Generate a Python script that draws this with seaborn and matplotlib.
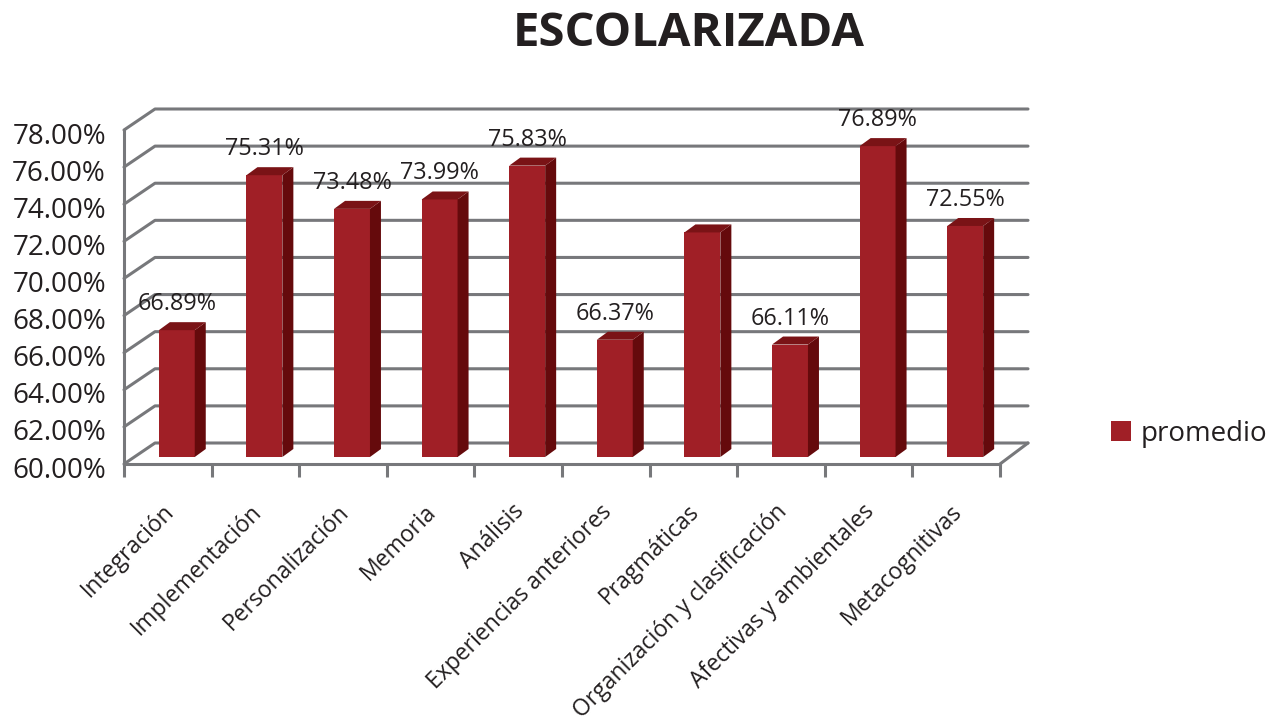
import matplotlib
matplotlib.use("Agg")
import matplotlib.pyplot as plt
import seaborn as sns
from matplotlib.lines import Line2D
from matplotlib.patches import Polygon
from matplotlib.transforms import Affine2D, IdentityTransform

# -------------------------------
# Data
# -------------------------------
categorias = ["Integración", "Implementación", "Personalización", "Memoria", "Análisis",
              "Experiencias anteriores", "Pragmáticas", "Organización y clasificación",
              "Afectivas y ambientales", "Metacognitivas"]
promedio = [66.89, 75.31, 73.48, 73.99, 75.83, 66.37, 72.20, 66.11, 76.89, 72.55]
# Pragmáticas has no label in the original
etiquetas = ["66.89%", "75.31%", "73.48%", "73.99%", "75.83%", "66.37%", None, "66.11%", "76.89%", "72.55%"]
y_ticks = [60, 62, 64, 66, 68, 70, 72, 74, 76, 78]

# colours and fake-3D offsets (pixels)
ROJO = "#a01f26"
ROJO_LADO = "#650a0c"
ROJO_TOPE = "#7a1316"
GRIS = "#77787b"
TEXTO = "#231f20"
WALL_DX, WALL_DY = 31, 21
BAR_DX, BAR_DY = 9, 7
SIDE_DX, SIDE_DY = 11, 8
BAR_SCALE = 0.992  # bars stand further back than the front axis

sns.set_style("white")
plt.rcParams["font.family"] = ["Open Sans", "DejaVu Sans"]

W, H = 1277, 724
fig = plt.figure(figsize=(W / 100, H / 100), dpi=100)
ax = fig.add_axes([124 / W, 1 - 464 / H, 876 / W, 334 / H])

sns.barplot(x=categorias, y=promedio, hue=["promedio"] * len(promedio), palette=[ROJO],
            width=0.41, saturation=1, linewidth=0, ax=ax, legend=False)
ax.set_ylim(60, 78)
ax.set_xlim(-0.5, 9.5)
fig.canvas.draw()

# -------------------------------
# Walls and gridlines
# -------------------------------
px = IdentityTransform()
x0, y0 = ax.transData.transform((-0.5, 60))
x1 = ax.transData.transform((9.5, 60))[0]
for t in y_ticks:
    y = ax.transData.transform((0, t))[1]
    ax.add_line(Line2D([x0, x0 + WALL_DX, x1 + WALL_DX - 3], [y, y + WALL_DY, y + WALL_DY],
                       transform=px, color=GRIS, lw=2.2, zorder=1, clip_on=False))
ax.add_line(Line2D([x1, x1 + WALL_DX - 3], [y0, y0 + WALL_DY], transform=px,
                   color=GRIS, lw=2.2, zorder=1, clip_on=False))

# -------------------------------
# Bars with side and top faces
# -------------------------------
offset = ax.transData + Affine2D().translate(0, -y0).scale(1, BAR_SCALE).translate(BAR_DX, y0 + BAR_DY)
for bar, valor, txt in zip(ax.patches, promedio, etiquetas):
    bar.set_y(60)
    bar.set_height(valor - 60)
    bar.set_transform(offset)
    bar.set_clip_on(False)
    bar.set_zorder(4)
    (xa, ya), (xb, yb) = offset.transform([(bar.get_x(), 60), (bar.get_x() + bar.get_width(), valor)])
    ax.add_patch(Polygon([(xb, ya), (xb + SIDE_DX, ya + SIDE_DY), (xb + SIDE_DX, yb + SIDE_DY), (xb, yb)],
                         transform=px, fc=ROJO_LADO, ec="none", zorder=4, clip_on=False))
    ax.add_patch(Polygon([(xa, yb), (xb, yb), (xb + SIDE_DX, yb + SIDE_DY), (xa + SIDE_DX, yb + SIDE_DY)],
                         transform=px, fc=ROJO_TOPE, ec="none", zorder=4, clip_on=False))
    if txt:
        ax.text((xa + xb) / 2, yb + 20, txt, transform=px, ha="center", va="baseline",
                fontsize=16.8, color=TEXTO, zorder=5, clip_on=False)

# -------------------------------
# Axes, labels, title, legend
# -------------------------------
sns.despine(ax=ax, top=True, right=True)
for lado in ["left", "bottom"]:
    ax.spines[lado].set_color(GRIS)
    ax.spines[lado].set_linewidth(2.2)
ax.set_yticks(y_ticks)
ax.set_yticklabels([f"{t:.2f}%" for t in y_ticks], fontsize=20, color=TEXTO)
ax.tick_params(axis="y", length=0, pad=13)
for lab in ax.get_yticklabels():
    lab.set_transform(lab.get_transform() + Affine2D().translate(0, -3))
ax.set_xticks(range(len(categorias)))
ax.set_xticklabels(categorias, rotation=45, ha="right", va="top", rotation_mode="anchor",
                   fontsize=16.5, color=TEXTO)
ax.tick_params(axis="x", which="major", length=0, pad=28)
for lab in ax.get_xticklabels():
    lab.set_transform(lab.get_transform() + Affine2D().translate(-6, 3))
ax.set_xticks([i - 0.5 for i in range(len(categorias) + 1)], minor=True)
ax.tick_params(axis="x", which="minor", bottom=True, length=9, width=2.2, color=GRIS)

fig.text(689 / W, 1 - 33 / H, "ESCOLARIZADA", ha="center", va="center", fontsize=34,
         fontweight="bold", color=TEXTO)

handle = plt.Rectangle((0, 0), 1, 1, fc=ROJO, ec="none")
fig.legend([handle], ["promedio"], loc="center left", bbox_to_anchor=(1111 / W, 1 - 434 / H),
           frameon=False, fontsize=20, handlelength=0.72, handleheight=0.72, handletextpad=0.36,
           labelcolor=TEXTO, borderpad=0, borderaxespad=0)

plt.savefig("out.png", dpi=100)
plt.close()
